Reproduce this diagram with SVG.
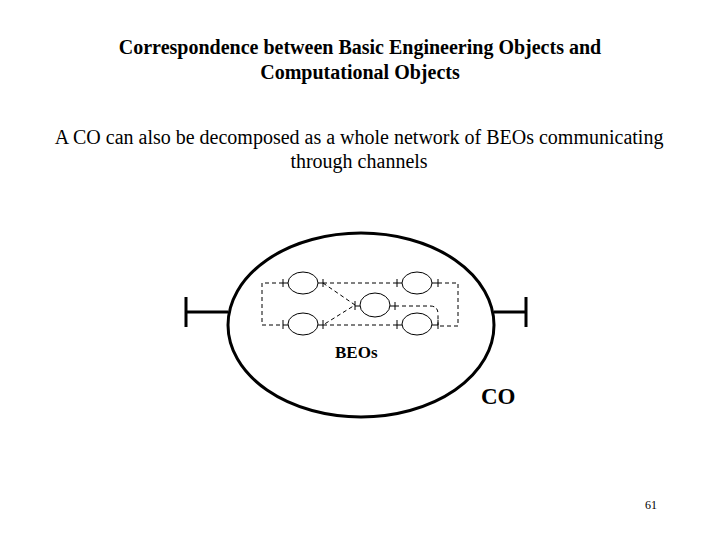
<svg xmlns="http://www.w3.org/2000/svg" width="720" height="540" viewBox="0 0 720 540">
<style>
text{font-family:"Liberation Serif","Times New Roman",serif;fill:#000}
.t{font-size:20px;font-weight:bold;text-anchor:middle}
.b{font-size:20px;text-anchor:middle}
.beo{fill:#fff;stroke:#000;stroke-width:1}
.tick{stroke:#000;stroke-width:1;fill:none}
.ch{stroke:#000;stroke-width:1;fill:none;stroke-dasharray:4 3}
.heavy{stroke:#000;stroke-width:3;fill:none}
</style>
<rect width="720" height="540" fill="#fff"/>
<text class="t" x="360" y="54">Correspondence between Basic Engineering Objects and</text>
<text class="t" x="360" y="79">Computational Objects</text>
<text class="b" x="359" y="144">A CO can also be decomposed as a whole network of BEOs communicating</text>
<text class="b" x="359" y="168">through channels</text>
<g id="CO">
<ellipse class="heavy" cx="361" cy="325" rx="133" ry="92"/>
<path class="heavy" d="M186 297V327M186 312H228M526 297V327M526 312H494"/>
</g>
<g id="connectors">
<path class="ch" d="M283 283H262V325H283"/>
<path class="ch" d="M323 283H397"/>
<path class="ch" d="M323 325H397"/>
<path class="ch" d="M438 283H458V326H438"/>
<path class="ch" d="M323 283L355 305L323 325"/>
<path class="ch" d="M395 306H430Q438 306 438 314V325"/>
</g>
<g id="beo1"><ellipse class="beo" cx="303" cy="283" rx="15" ry="11"/><path class="tick" d="M283 279V287M283 283H288M318 283H323M323 279V287"/></g>
<g id="beo2"><ellipse class="beo" cx="417" cy="283" rx="15" ry="11"/><path class="tick" d="M397 279V287M397 283H402M432 283H438M438 279V287"/></g>
<g id="beo3"><ellipse class="beo" cx="375" cy="305" rx="15" ry="12"/><path class="tick" d="M355 301V310M355 306H360M390 306H395M395 302V310"/></g>
<g id="beo4"><ellipse class="beo" cx="303" cy="324" rx="15" ry="11"/><path class="tick" d="M283 320V329M283 325H288M318 325H323M323 320V329"/></g>
<g id="beo5"><ellipse class="beo" cx="417" cy="324" rx="15" ry="11"/><path class="tick" d="M397 320V329M397 325H402M432 325H438M438 320V329"/></g>
<text x="335" y="358" style="font-size:17px;font-weight:bold">BEOs</text>
<text x="481" y="404" style="font-size:23px;font-weight:bold">CO</text>
<text x="645" y="509" style="font-size:12px">61</text>
</svg>
